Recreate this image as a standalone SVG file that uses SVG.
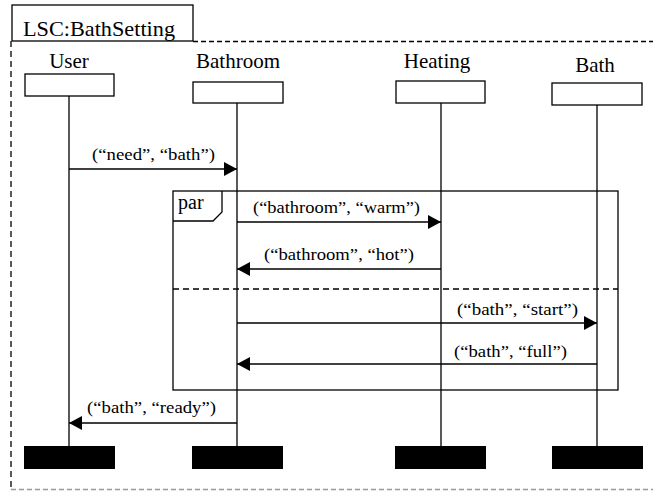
<svg xmlns="http://www.w3.org/2000/svg" width="653" height="491" viewBox="0 0 653 491" font-family="Liberation Serif, Times New Roman, DejaVu Serif, serif">
<style>
.lbl{font-size:21px;text-anchor:middle}
.msg{font-size:17px}
.box{fill:#fff;stroke:#000;stroke-width:1.3}
.end{fill:#000}
.life{stroke:#000;stroke-width:1.3;fill:none}
.arr{stroke:#000;stroke-width:1.3;fill:none;marker-end:url(#ah)}
.frame{fill:none;stroke:#000;stroke-width:1.3}
</style>
<defs>
<marker id="ah" markerUnits="userSpaceOnUse" markerWidth="14" markerHeight="16" refX="13" refY="7" orient="auto">
<path d="M0,0 L13,7 L0,14 Z" fill="#000"/>
</marker>
</defs>
<g id="frame">
<rect x="12" y="5" width="181" height="36" fill="#fff" stroke="#000" stroke-width="1.3"/>
<text x="23" y="36" font-size="21" font-family="Liberation Serif, serif" textLength="152" lengthAdjust="spacingAndGlyphs">LSC:BathSetting</text>
<line x1="193" y1="41.5" x2="653" y2="41.5" stroke="#000" stroke-width="1.3" stroke-dasharray="5,3"/>
<line x1="11" y1="41" x2="11" y2="489" stroke="#000" stroke-width="1.3" stroke-dasharray="6,4"/>
<line x1="11" y1="489.5" x2="653" y2="489.5" stroke="#999" stroke-width="1.3" stroke-dasharray="5,3"/>
</g>
<g id="user">
<text class="lbl" x="69" y="68">User</text>
<rect class="box" x="25" y="74" width="89" height="22"/>
<line class="life" x1="69" y1="96" x2="69" y2="446"/>
<rect class="end" x="24" y="446" width="91" height="23"/>
</g>
<g id="bathroom">
<text class="lbl" x="238" y="68">Bathroom</text>
<rect class="box" x="193" y="82" width="90" height="21"/>
<line class="life" x1="237" y1="103" x2="237" y2="446"/>
<rect class="end" x="192" y="446" width="91" height="23"/>
</g>
<g id="heating">
<text class="lbl" x="437" y="68">Heating</text>
<rect class="box" x="396" y="81" width="89" height="22"/>
<line class="life" x1="441" y1="103" x2="441" y2="446"/>
<rect class="end" x="395" y="446" width="91" height="23"/>
</g>
<g id="bath">
<text class="lbl" x="595" y="72">Bath</text>
<rect class="box" x="552" y="83" width="90" height="22"/>
<line class="life" x1="597" y1="105" x2="597" y2="446"/>
<rect class="end" x="552" y="446" width="91" height="23"/>
</g>
<g id="par">
<rect class="frame" x="173" y="191" width="445" height="199"/>
<path class="frame" d="M173,221 L213,221 L222,212 L222,191"/>
<text x="178" y="209" font-size="20">par</text>
<line x1="173" y1="289" x2="618" y2="289" stroke="#000" stroke-width="1.3" stroke-dasharray="6,4"/>
</g>
<g id="connectors">
<line class="arr" x1="69" y1="169" x2="237" y2="169"/>
<text class="msg" x="92" y="160" textLength="123" lengthAdjust="spacingAndGlyphs">(“need”, “bath”)</text>
<line class="arr" x1="237" y1="222" x2="441" y2="222"/>
<text class="msg" x="253" y="213" textLength="167" lengthAdjust="spacingAndGlyphs">(“bathroom”, “warm”)</text>
<line class="arr" x1="441" y1="269" x2="237" y2="269"/>
<text class="msg" x="264" y="260" textLength="150" lengthAdjust="spacingAndGlyphs">(“bathroom”, “hot”)</text>
<line class="arr" x1="237" y1="323" x2="597" y2="323"/>
<text class="msg" x="457" y="315" textLength="121" lengthAdjust="spacingAndGlyphs">(“bath”, “start”)</text>
<line class="arr" x1="597" y1="364" x2="237" y2="364"/>
<text class="msg" x="454" y="357" textLength="113" lengthAdjust="spacingAndGlyphs">(“bath”, “full”)</text>
<line class="arr" x1="237" y1="423" x2="69" y2="423"/>
<text class="msg" x="87" y="413" textLength="129" lengthAdjust="spacingAndGlyphs">(“bath”, “ready”)</text>
</g>
</svg>
